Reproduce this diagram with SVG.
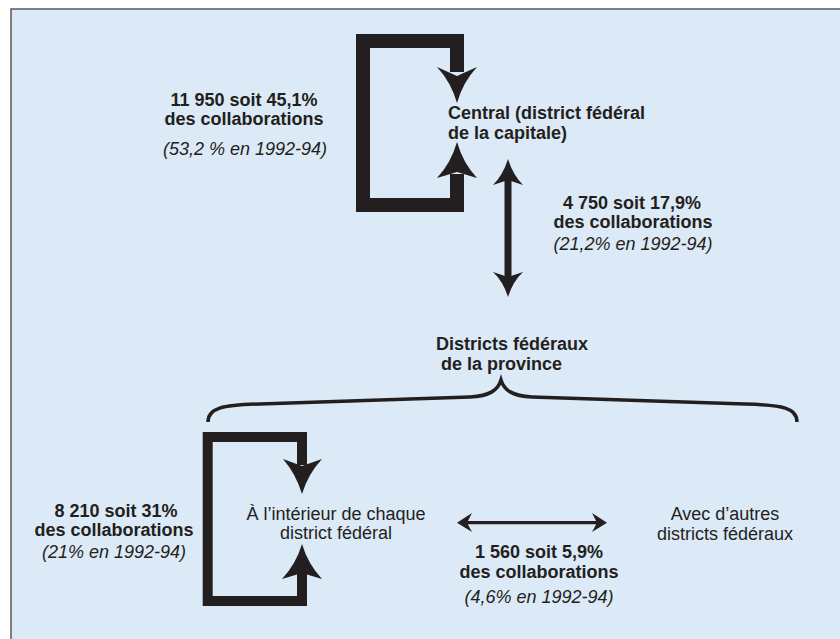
<svg xmlns="http://www.w3.org/2000/svg" width="840" height="639" viewBox="0 0 840 639">
<style>
text{font-family:"Liberation Sans",Arial,sans-serif;font-size:18px;fill:#231f20}
.b{font-weight:bold}
.i{font-style:italic}
.m{text-anchor:middle}
.loop{fill:none;stroke:#231f20;stroke-linejoin:miter;stroke-linecap:butt}
.head{fill:#231f20;stroke:none}
</style>
<rect x="11" y="9" width="829" height="630" fill="#dce9f6"/>
<path d="M11,639 L11,9 L840,9" fill="none" stroke="#5a5a5a" stroke-width="1.5"/>
<g id="connectors">
<path class="loop" stroke-width="14" d="M457,72 L457,41 L363,41 L363,205 L457,205 L457,174"/>
<path class="head" d="M457,103 Q451,82 437,67 L457,76 L477,67 Q463,82 457,103 Z"/>
<path class="head" d="M457,142 Q451,163 437,178 L457,172 L477,178 Q463,163 457,142 Z"/>
<path class="loop" stroke-width="7" d="M508,178 L508,279"/>
<path class="head" d="M508,159 Q503,175 493,185 L508,180 L523,185 Q513,175 508,159 Z"/>
<path class="head" d="M508,297 Q503,281 493,272 L508,277 L523,272 Q513,281 508,297 Z"/>
<path class="loop" stroke-width="3.5" d="M208,422 C208,408 222,405 260,404 L470,397 C490,396 498,390 501,380 C504,390 512,396 532,397 L745,404 C783,405 797,408 797,422"/>
<path class="loop" stroke-width="10" d="M302,465 L302,437 L207.7,437 L207.7,601 L302,601 L302,573"/>
<path class="head" d="M302,494 Q296,474 283,459 L302,466 L322,459 Q308,474 302,494 Z"/>
<path class="head" d="M302,544 Q296,564 282,579 L302,573 L322,579 Q308,564 302,544 Z"/>
<path class="loop" stroke-width="3.3" d="M465,522.7 L599,522.7"/>
<path class="head" d="M457,522.7 L472,513 L467,522.7 L472,532 Z"/>
<path class="head" d="M607,522.7 L592,513 L597,522.7 L592,532 Z"/>
</g>
<g id="label-central-loop">
<text class="b m" x="244" y="106">11 950 soit 45,1%</text>
<text class="b m" x="244" y="124.5">des collaborations</text>
<text class="i m" x="245" y="155">(53,2 % en 1992-94)</text>
</g>
<g id="node-central">
<text class="b" x="448" y="119">Central (district fédéral</text>
<text class="b" x="448" y="139">de la capitale)</text>
</g>
<g id="label-central-province">
<text class="b m" x="632" y="209">4 750 soit 17,9%</text>
<text class="b m" x="633" y="228">des collaborations</text>
<text class="i m" x="633" y="250">(21,2% en 1992-94)</text>
</g>
<g id="node-province">
<text class="b" x="436" y="350">Districts fédéraux</text>
<text class="b" x="441" y="370">de la province</text>
</g>
<g id="label-within-loop">
<text class="b m" x="116" y="516.5">8 210 soit 31%</text>
<text class="b m" x="114" y="535.5">des collaborations</text>
<text class="i m" x="114" y="557.5">(21% en 1992-94)</text>
</g>
<g id="node-within">
<text class="m" x="336" y="520">À l’intérieur de chaque</text>
<text class="m" x="336" y="539">district fédéral</text>
</g>
<g id="label-between">
<text class="b m" x="539" y="558">1 560 soit 5,9%</text>
<text class="b m" x="539" y="578">des collaborations</text>
<text class="i m" x="539" y="603">(4,6% en 1992-94)</text>
</g>
<g id="node-other">
<text class="m" x="725" y="520">Avec d’autres</text>
<text class="m" x="725" y="540">districts fédéraux</text>
</g>
</svg>
